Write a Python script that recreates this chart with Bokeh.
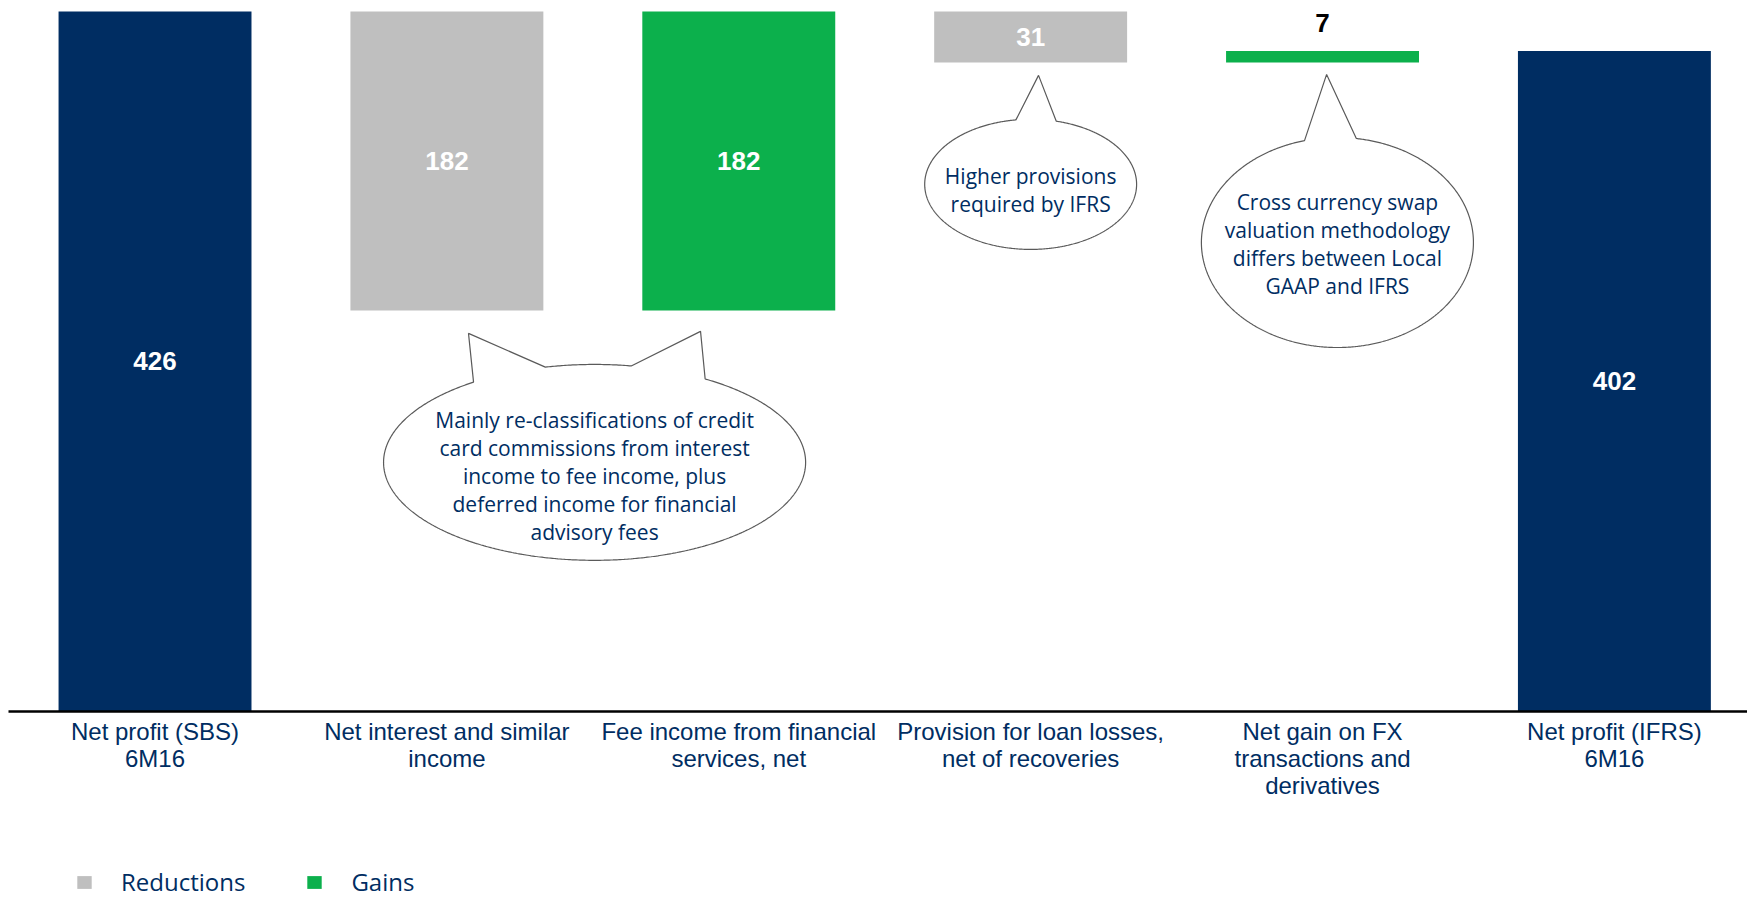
import numpy as np
from bokeh.plotting import figure
from bokeh.layouts import column
from bokeh.models import Range1d, FixedTicker, Legend, LegendItem, ColumnDataSource
from bokeh.core.properties import value
from bokeh.embed import file_html
from bokeh.resources import INLINE

# ---------------- data ----------------
categories = [
    "Net profit (SBS)\n6M16",
    "Net interest and similar\nincome",
    "Fee income from financial\nservices, net",
    "Provision for loan losses,\nnet of recoveries",
    "Net gain on FX\ntransactions and\nderivatives",
    "Net profit (IFRS)\n6M16",
]
changes = [426, -182, 182, -31, 7, 402]
kinds = ["total", "reduction", "gain", "reduction", "gain", "total"]
value_labels = ["426", "182", "182", "31", "7", "402"]
label_inside = [True, True, True, True, False, True]
legend_labels = ["Reductions", "Gains"]

callout_texts = [
    "Mainly re-classifications of credit\ncard commissions from interest\nincome to fee income, plus\ndeferred income for financial\nadvisory fees",
    "Higher provisions\nrequired by IFRS",
    "Cross currency swap\nvaluation methodology\ndiffers between Local\nGAAP and IFRS",
]
# ellipse centre (x in category units, y in value units), semi-axes, text position
callout_cx = [1.506, 3.0, 4.051]
callout_cy = [151.6, 320.8, 285.4]
callout_a = [0.723, 0.363, 0.466]
callout_b = [59.6, 39.6, 63.9]
callout_text_y = [143.4, 317.4, 284.2]
# pointers: (callout index, start angle, end angle, tip x, tip y)
pointers = [
    (0, 58.4, 80.0, 1.869, 231.3),
    (0, 103.5, 125.0, 1.074, 230.1),
    (1, 76.0, 98.0, 3.027, 387.1),
    (2, 82.0, 104.0, 4.014, 387.7),
]

NAVY = "#002D62"
GREY = "#BFBFBF"
GREEN = "#0CB04C"

# ---------------- waterfall geometry ----------------
x_pos = list(range(len(categories)))
bottoms, tops = [], []
running = 0
for c, k in zip(changes, kinds):
    if k == "total":
        b, t = 0, c
        running = c
    elif c < 0:
        b, t = running + c, running
        running += c
    else:
        b, t = running, running + c
        running += c
    bottoms.append(b)
    tops.append(t)


def subset(kind):
    idx = [i for i, k in enumerate(kinds) if k == kind]
    return ColumnDataSource(dict(
        x=[x_pos[i] for i in idx],
        bottom=[bottoms[i] for i in idx],
        top=[tops[i] for i in idx],
    ))


p = figure(
    frame_width=1739, frame_height=703,
    x_range=Range1d(-0.502, 5.456), y_range=Range1d(0, 427.8),
    output_backend="svg", toolbar_location=None,
    min_border_left=8, min_border_right=0, min_border_top=8, min_border_bottom=110,
)
p.outline_line_color = None
p.grid.visible = False
p.yaxis.visible = False
p.background_fill_color = "white"
p.border_fill_color = "white"

BW = 0.661
r_tot = p.vbar(x="x", bottom="bottom", top="top", width=BW, source=subset("total"),
               fill_color=NAVY, line_color=None)
r_red = p.vbar(x="x", bottom="bottom", top="top", width=BW, source=subset("reduction"),
               fill_color=GREY, line_color=None)
r_gain = p.vbar(x="x", bottom="bottom", top="top", width=BW, source=subset("gain"),
                fill_color=GREEN, line_color=None)

# value labels
in_idx = [i for i in range(len(changes)) if label_inside[i]]
out_idx = [i for i in range(len(changes)) if not label_inside[i]]
p.text(x=[x_pos[i] for i in in_idx], y=[(bottoms[i] + tops[i]) / 2 for i in in_idx],
       text=[value_labels[i] for i in in_idx], text_color="white",
       text_font=value("Liberation Sans"), text_font_style="bold", text_font_size="26px",
       text_align="center", text_baseline="middle")
p.text(x=[x_pos[i] for i in out_idx], y=[tops[i] for i in out_idx],
       text=[value_labels[i] for i in out_idx], text_color="black", y_offset=-28,
       text_font=value("Liberation Sans"), text_font_style="bold", text_font_size="26px",
       text_align="center", text_baseline="middle")


# speech bubbles
def bubble(ci):
    cx, cy, a, b = callout_cx[ci], callout_cy[ci], callout_a[ci], callout_b[ci]
    pts = sorted([pt for pt in pointers if pt[0] == ci], key=lambda q: q[1])
    xs, ys = [], []
    ts = np.linspace(0, 360, 721)
    j = 0
    skip_until = None
    for t in ts:
        if skip_until is not None:
            if t < skip_until:
                continue
            skip_until = None
        if j < len(pts) and t >= pts[j][1]:
            _, t1, t2, tx, ty = pts[j]
            xs += [cx + a * np.cos(np.radians(t1)), tx, cx + a * np.cos(np.radians(t2))]
            ys += [cy + b * np.sin(np.radians(t1)), ty, cy + b * np.sin(np.radians(t2))]
            skip_until = t2
            j += 1
            continue
        xs.append(cx + a * np.cos(np.radians(t)))
        ys.append(cy + b * np.sin(np.radians(t)))
    return xs, ys


for ci in range(len(callout_texts)):
    bx, by = bubble(ci)
    p.patch(bx, by, fill_color="white", line_color="#5A5A5A", line_width=1.2)

p.text(x=callout_cx, y=callout_text_y, text=callout_texts, text_color=NAVY,
       text_font=value("Open Sans"), text_font_size="21px", text_line_height=1.0,
       text_align="center", text_baseline="middle")

# axis
ax = p.xaxis[0]
ax.ticker = FixedTicker(ticks=x_pos)
ax.major_label_overrides = {i: lab for i, lab in zip(x_pos, categories)}
ax.major_label_text_font = "Liberation Sans"
ax.major_label_text_font_size = "24px"
ax.major_label_text_line_height = 1.0
ax.major_label_text_color = NAVY
ax.major_label_standoff = 0
ax.axis_line_color = "black"
ax.axis_line_width = 2.5
ax.major_tick_line_color = None
ax.minor_tick_line_color = None

# ---------------- legend strip (separate small figure below) ----------------
# the same reduction / gain bars are attached here, outside this strip's ranges,
# so that only their legend swatches show
p2 = figure(
    width=1747, height=77, x_range=Range1d(100, 101), y_range=Range1d(5000, 5001),
    output_backend="svg", toolbar_location=None, x_axis_type=None, y_axis_type=None,
    min_border=0, min_border_left=0, min_border_right=0, min_border_top=0, min_border_bottom=0,
)
p2.outline_line_color = None
p2.grid.visible = False
p2.background_fill_color = "white"
p2.border_fill_color = "white"
lg_red = p2.vbar(x="x", bottom="bottom", top="top", width=BW,
                 source=subset("reduction"), fill_color=GREY, line_color=None)
lg_gain = p2.vbar(x="x", bottom="bottom", top="top", width=BW,
                  source=subset("gain"), fill_color=GREEN, line_color=None)

legend = Legend(
    items=[LegendItem(label=legend_labels[0], renderers=[lg_red]),
           LegendItem(label=legend_labels[1], renderers=[lg_gain])],
    orientation="horizontal", location=(67, 0), margin=0, padding=0,
    spacing=60, label_standoff=28, glyph_width=18, glyph_height=16,
    label_text_font="Open Sans", label_text_font_size="24px", label_text_color=NAVY,
    border_line_color=None, background_fill_alpha=0,
)
p2.add_layout(legend, "center")

layout = column(p, p2, spacing=0)
open("out.html", "w").write(file_html(layout, INLINE))
